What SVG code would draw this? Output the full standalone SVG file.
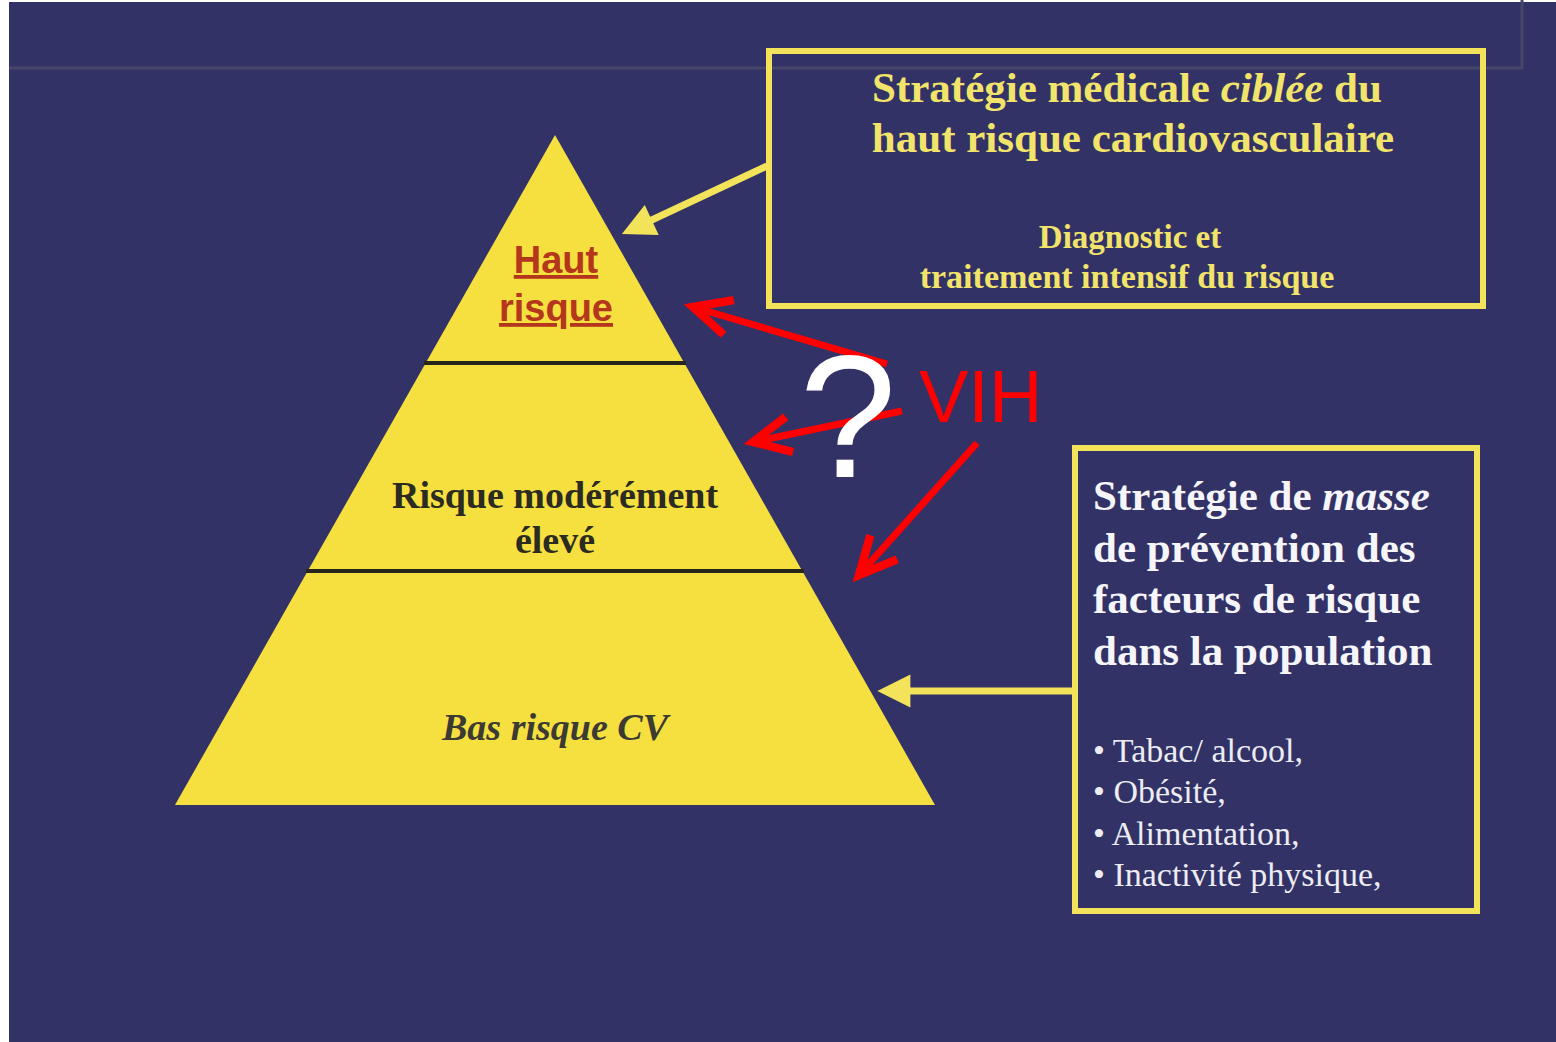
<svg xmlns="http://www.w3.org/2000/svg" width="1556" height="1042" viewBox="0 0 1556 1042">
<defs>
<style>
.serif{font-family:"Liberation Serif","Times New Roman",serif}
.sans{font-family:"Liberation Sans",Arial,sans-serif}
.box{fill:none;stroke:#f3e35a;stroke-width:6}
.ylw{stroke:#f3e35a;stroke-width:7;fill:none}
.red{stroke:#ff0000;stroke-width:7;fill:none}
.tier{fill:#f6e040}
.div{stroke:#26261c;stroke-width:4}
.hd{font-weight:bold;font-size:43px}
.tb{fill:#f2e46a}
.wb{fill:#f5f5fa}
</style>
<marker id="yhead" markerUnits="userSpaceOnUse" markerWidth="40" markerHeight="40" viewBox="-2 -16 34 32" refX="2" refY="0" orient="auto" overflow="visible">
<path d="M0,-14 L28,0 L0,14 Z" fill="#f3e35a"/>
</marker>
<marker id="rhead" markerUnits="userSpaceOnUse" markerWidth="60" markerHeight="60" viewBox="-40 -25 50 50" refX="0" refY="0" orient="auto" overflow="visible">
<path d="M-31,-15 L0,0 L-31,15" fill="none" stroke="#ff0000" stroke-width="7" stroke-linejoin="miter"/>
</marker>
</defs>
<rect x="0" y="0" width="1556" height="1042" fill="#ffffff"/>
<rect x="9" y="2" width="1547" height="1040" fill="#323266"/>
<path d="M9,68 H1522 V0" fill="none" stroke="#46466a" stroke-width="3"/>

<g id="pyramid">
<g id="tier-haut">
<polygon class="tier" points="555,135 425.7,363 684.3,363"/>
<text class="sans" x="556" y="273" text-anchor="middle" font-size="38" font-weight="bold" fill="#b4361c" text-decoration="underline">Haut</text>
<text class="sans" x="556" y="321" text-anchor="middle" font-size="38" font-weight="bold" fill="#b4361c" text-decoration="underline">risque</text>
</g>
<g id="tier-modere">
<polygon class="tier" points="425.7,363 684.3,363 802.3,571 307.7,571"/>
<text class="serif" x="555" y="508" text-anchor="middle" font-size="38" font-weight="bold" fill="#2b2b22">Risque modérément</text>
<text class="serif" x="555" y="553" text-anchor="middle" font-size="38" font-weight="bold" fill="#2b2b22">élevé</text>
</g>
<g id="tier-bas">
<polygon class="tier" points="307.7,571 802.3,571 935,805 175,805"/>
<text class="serif" x="555" y="740" text-anchor="middle" font-size="38" font-weight="bold" font-style="italic" fill="#3c3b33">Bas risque CV</text>
</g>
<line class="div" x1="424" y1="363" x2="686" y2="363"/>
<line class="div" x1="306" y1="571" x2="804" y2="571"/>
</g>

<g id="box-cible">
<rect class="box" x="769" y="51" width="714" height="255"/>
<text class="serif hd tb" x="1127" y="102" text-anchor="middle">Stratégie médicale <tspan font-style="italic">ciblée</tspan> du</text>
<text class="serif hd tb" x="1133" y="152" text-anchor="middle">haut risque cardiovasculaire</text>
<text class="serif tb" x="1130" y="248" text-anchor="middle" font-size="33" font-weight="bold">Diagnostic et</text>
<text class="serif tb" x="1127" y="288" text-anchor="middle" font-size="34" font-weight="bold">traitement intensif du risque</text>
</g>

<g id="box-masse">
<rect class="box" x="1075" y="448" width="402" height="463"/>
<text class="serif hd wb" x="1093" y="510">Stratégie de <tspan font-style="italic">masse</tspan></text>
<text class="serif hd wb" x="1093" y="562">de prévention des</text>
<text class="serif hd wb" x="1093" y="613">facteurs de risque</text>
<text class="serif hd wb" x="1093" y="665">dans la population</text>
<text class="serif" x="1093" y="762" font-size="34" fill="#ececf2">• Tabac/ alcool,</text>
<text class="serif" x="1093" y="803" font-size="34" fill="#ececf2">• Obésité,</text>
<text class="serif" x="1093" y="845" font-size="34" fill="#ececf2">• Alimentation,</text>
<text class="serif" x="1093" y="886" font-size="34" fill="#ececf2">• Inactivité physique,</text>
</g>

<g id="connectors">
<line class="ylw" x1="767" y1="166" x2="649.6" y2="221" marker-end="url(#yhead)"/>
<line class="ylw" x1="1075" y1="691" x2="908" y2="691" marker-end="url(#yhead)"/>
<line class="red" x1="887" y1="364" x2="693" y2="307" marker-end="url(#rhead)"/>
<line class="red" x1="902" y1="411" x2="753" y2="442" marker-end="url(#rhead)"/>
<line class="red" x1="977" y1="443" x2="859" y2="575" marker-end="url(#rhead)"/>
</g>

<g id="labels">
<text class="sans" x="848" y="477" text-anchor="middle" font-size="175" fill="#ffffff">?</text>
<text class="sans" x="919" y="422" font-size="74" fill="#ff0000">VIH</text>
</g>
</svg>
